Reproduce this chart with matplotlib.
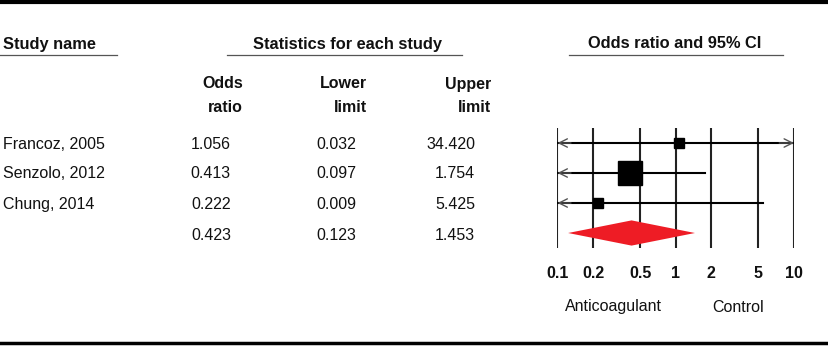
import numpy as np
import matplotlib
matplotlib.use("Agg")
import matplotlib.pyplot as plt
from matplotlib.lines import Line2D

plt.rcParams['font.family'] = ['Liberation Sans', 'DejaVu Sans']

studies = ["Francoz, 2005", "Senzolo, 2012", "Chung, 2014", ""]
odds_ratio = [1.056, 0.413, 0.222, 0.423]
lower = [0.032, 0.097, 0.009, 0.123]
upper = [34.420, 1.754, 5.425, 1.453]
rel_weight = [13, 72, 15]
axis_ticks = [0.1, 0.2, 0.5, 1, 2, 5, 10]
tick_labels = ["0.1", "0.2", "0.5", "1", "2", "5", "10"]

W, H = 829, 346
FS = 11.5
fig = plt.figure(figsize=(W / 100, H / 100), dpi=100)


def fx(x):
    return x / W


def fy(y):
    return 1 - y / H


def hline(x0, x1, y, lw, color):
    fig.add_artist(Line2D([fx(x0), fx(x1)], [fy(y), fy(y)], lw=lw,
                          color=color, transform=fig.transFigure))


def txt(x, y, s, ha="left", bold=False, size=FS):
    fig.text(fx(x), fy(y), s, ha=ha, va="center", fontsize=size,
             fontweight="bold" if bold else "normal", color="#111111")


# frame rules
hline(0, W, 2, 3.0, "black")
hline(0, W, 343, 2.5, "black")

# group headers
txt(3, 44, "Study name", bold=True, size=11.8)
hline(0, 117, 55, 0.9, "#555555")
txt(348, 44, "Statistics for each study", ha="center", bold=True, size=11.8)
hline(227, 462, 55, 0.9, "#555555")
txt(675, 44, "Odds ratio and 95% CI", ha="center", bold=True, size=11.8)
hline(569, 783, 55, 0.9, "#555555")

# column headers
col_head_x = [243, 367, 491]
for x, (a, b) in zip(col_head_x, [("Odds", "ratio"), ("Lower", "limit"),
                                  ("Upper", "limit")]):
    txt(x, 84, a, ha="right", bold=True)
    txt(x, 108, b, ha="right", bold=True)

# table rows
row_y = [145, 174, 205, 235]
for i, y in enumerate(row_y):
    txt(3, y, studies[i])
    txt(231, y, f"{odds_ratio[i]:.3f}", ha="right")
    txt(356, y, f"{lower[i]:.3f}", ha="right")
    txt(475, y, f"{upper[i]:.3f}", ha="right")

# forest panel
ax = fig.add_axes([fx(557.5), fy(248), fx(794) - fx(557.5), (248 - 128) / H])
ax.set_xscale("log")
ax.set_xlim(0.1, 10)
ax.set_ylim(3.5, -0.5)
for s in ax.spines.values():
    s.set_visible(False)
ax.set_yticks([])
ax.set_xticks(axis_ticks)
ax.set_xticklabels(tick_labels, fontweight="bold", fontsize=FS)
ax.xaxis.set_minor_locator(matplotlib.ticker.NullLocator())
ax.tick_params(axis="x", length=0, pad=13, colors="#111111")
for t in axis_ticks:
    ax.axvline(t, color="#222222", lw=1.5, zorder=1)

lo_lim, hi_lim = 0.1, 10
for i in range(3):
    lo = max(lower[i], lo_lim)
    hi = min(upper[i], hi_lim)
    ax.plot([lo, hi], [i, i], color="black", lw=1.5, zorder=2)
    arr = dict(arrowstyle="->", color="#555555", lw=1.0,
               mutation_scale=15, shrinkA=0, shrinkB=0)
    if lower[i] < lo_lim:
        ax.annotate("", xy=(lo_lim, i), xytext=(0.13, i), arrowprops=arr)
    if upper[i] > hi_lim:
        ax.annotate("", xy=(hi_lim, i), xytext=(7.5, i), arrowprops=arr)
    ms = 3.3 * np.sqrt(rel_weight[i])
    ax.plot(odds_ratio[i], i, marker="s", ms=ms * 0.72 * 0.85,
            color="black", zorder=3)

# pooled estimate diamond
ax.fill([lower[3], odds_ratio[3], upper[3], odds_ratio[3]],
        [3, 2.58, 3, 3.42], color="#ee1c25", lw=0, zorder=3)

txt(613, 307, "Anticoagulant", ha="center")
txt(738, 307, "Control", ha="center")

fig.savefig("out.png", dpi=100)
